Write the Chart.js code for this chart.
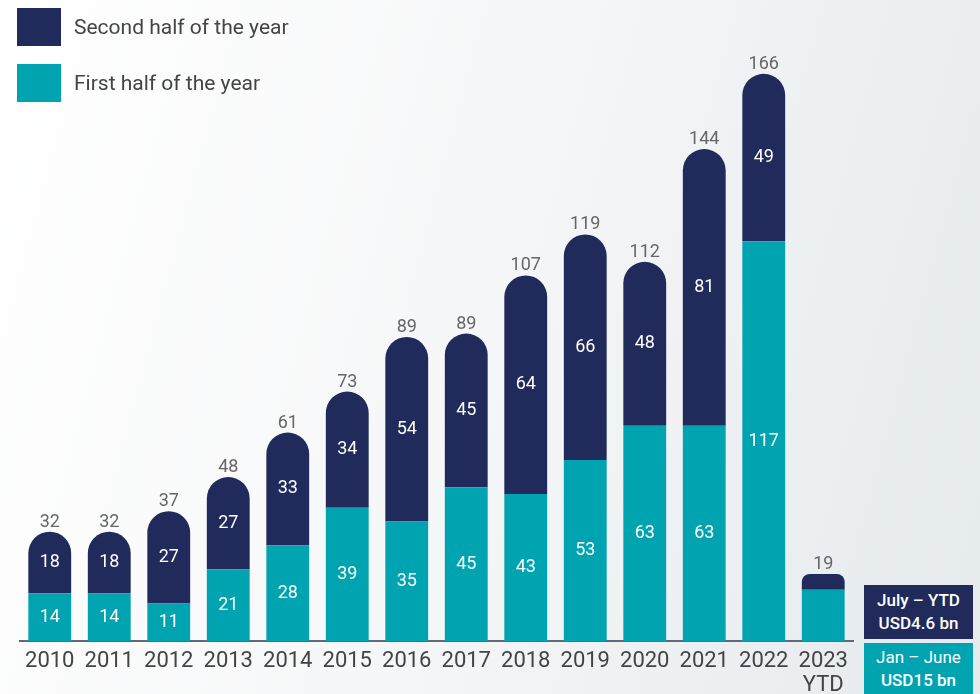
<!DOCTYPE html>
<html>
<head>
<meta charset="utf-8">
<script src="https://cdn.jsdelivr.net/npm/chart.js@4.4.0/dist/chart.umd.min.js"></script>
<style>
  html, body { margin: 0; padding: 0; }
  body {
    width: 980px; height: 694px; overflow: hidden; position: relative;
    background: linear-gradient(105deg, #ffffff 0%, #f6f7f8 45%, #e5eaed 100%);
    font-family: Roboto, "Noto Sans", sans-serif;
  }
  #wrap { position: absolute; left: 0; top: 0; width: 980px; height: 694px; }
  .leg { position: absolute; left: 17px; display: flex; align-items: center; color: #444; font-size: 21px; }
  .leg span.box { width: 44px; height: 38px; display: inline-block; margin-right: 13px; }
  .note { position: absolute; left: 864px; width: 109px; color: #fff; font-size: 17px; text-align: center; line-height: 23px; }
</style>
</head>
<body>
<div id="wrap"><canvas id="grafica"></canvas></div>
<div class="leg" style="top:8px"><span class="box" style="background:#202a5b"></span>Second half of the year</div>
<div class="leg" style="top:64px"><span class="box" style="background:#00a3b0"></span>First half of the year</div>
<div class="note" style="top:585px;height:54px;background:#202a5b;padding-top:4px;box-sizing:border-box;font-weight:500">July – YTD<br>USD4.6 bn</div>
<div class="note" style="top:643px;height:51px;background:#00a3b0;padding-top:3px;box-sizing:border-box">Jan – June<br><b style="font-weight:500">USD15 bn</b></div>
<script>
var anios = ['2010','2011','2012','2013','2014','2015','2016','2017','2018','2019','2020','2021','2022',['2023','YTD']];
var primera = [14, 14, 11, 21, 28, 39, 35, 45, 43, 53, 63, 63, 117, 15];
var segunda = [18, 18, 27, 27, 33, 34, 54, 45, 64, 66, 48, 81, 49, 4.6];
var totales = [32, 32, 37, 48, 61, 73, 89, 89, 107, 119, 112, 144, 166, 19];
var mostrarInterior = [true,true,true,true,true,true,true,true,true,true,true,true,true,false];

var etiquetas = {
    id: 'etiquetas',
    afterDatasetsDraw(chart){
        var ctx = chart.ctx;
        ctx.save();
        ctx.textAlign = 'center';
        ctx.textBaseline = 'middle';
        ctx.font = '18px Roboto';
        chart.data.datasets.forEach((ds, d) => {
            var meta = chart.getDatasetMeta(d);
            meta.data.forEach((bar, i) => {
                if(!mostrarInterior[i]) return;
                ctx.fillStyle = '#ffffff';
                ctx.fillText(String(ds.data[i]), bar.x, (bar.y + bar.base)/2);
            });
        });
        var top = chart.getDatasetMeta(1);
        ctx.fillStyle = '#666666';
        ctx.textBaseline = 'alphabetic';
        top.data.forEach((bar, i) => {
            ctx.fillText(String(totales[i]), bar.x, bar.y - 5);
        });
        ctx.restore();
    }
};

new Chart(document.getElementById('grafica'), {
    type: 'bar',
    data: {
        labels: anios,
        datasets: [
            { label: 'First half of the year', data: primera, backgroundColor: '#00a3b0', borderWidth: 0 },
            { label: 'Second half of the year', data: segunda, backgroundColor: '#202a5b', borderWidth: 0,
              borderRadius: {topLeft: 22, topRight: 22, bottomLeft: 0, bottomRight: 0}, borderSkipped: 'start' }
        ]
    },
    options: {
        responsive: true,
        maintainAspectRatio: false,
        animation: false,
        layout: { padding: { left: 20, right: 127, top: 26, bottom: 0 } },
        plugins: { legend: { display: false }, tooltip: { enabled: false } },
        datasets: { bar: { barPercentage: 0.72, categoryPercentage: 1 } },
        scales: {
            x: {
                stacked: true,
                grid: { display: false },
                border: { display: true, color: '#5f6b78', width: 2 },
                ticks: { color: '#444', font: { size: 22, family: 'Roboto', lineHeight: 1.1 }, padding: 0, maxRotation: 0, autoSkip: false },
                afterFit: s => { s.height = 53; }
            },
            y: { stacked: true, display: false, min: 0, max: 180 }
        }
    },
    plugins: [etiquetas]
});
</script>
</body>
</html>
